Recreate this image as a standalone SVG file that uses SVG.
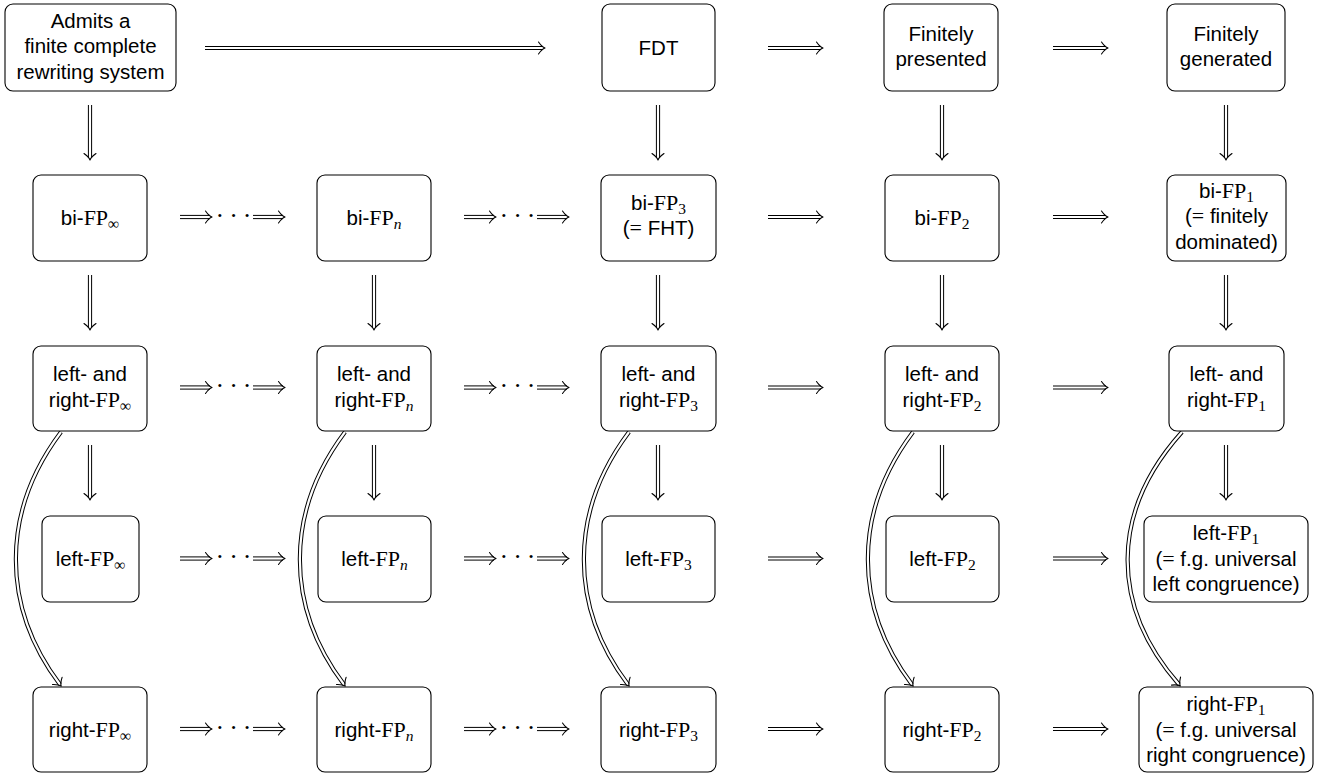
<svg xmlns="http://www.w3.org/2000/svg" width="1328" height="773" viewBox="0 0 1328 773">
<style>
.box{fill:#fff;stroke:#000;stroke-width:1.1}
.t{font-family:"Liberation Sans",Arial,sans-serif;font-size:20.5px;text-anchor:middle;fill:#000}
.m{font-family:"Liberation Serif","Times New Roman",serif;font-size:22px}
.s{font-size:15.5px}
.i{font-style:italic}
.dots{font-family:"Liberation Serif",serif;font-size:26px;letter-spacing:5px;text-anchor:middle;fill:#000}
.o{fill:none;stroke:#000;stroke-width:4.2}
.w{fill:none;stroke:#fff;stroke-width:2.2;marker-end:url(#ah)}
</style>
<defs>
<marker id="ah" markerUnits="userSpaceOnUse" markerWidth="20" markerHeight="20" refX="11" refY="10" orient="auto" overflow="visible">
<path d="M6.5,4 Q10,9 13,10 Q10,11 6.5,16" fill="none" stroke="#000" stroke-width="1.1" stroke-linecap="round" stroke-linejoin="round"/>
</marker>
</defs>

<g id="connectors">
<path class="o" d="M205,48 H543"/><path class="w" d="M205,48 H543"/>
<path class="o" d="M768,48 H821"/><path class="w" d="M768,48 H821"/>
<path class="o" d="M1053,48 H1106"/><path class="w" d="M1053,48 H1106"/>
<g id="h-row2">
<path class="o" d="M180,217 H210"/><path class="w" d="M180,217 H210"/>
<text class="dots" x="236" y="223.8">···</text>
<path class="o" d="M253,217 H283"/><path class="w" d="M253,217 H283"/>
<path class="o" d="M464,217 H494"/><path class="w" d="M464,217 H494"/>
<text class="dots" x="520" y="223.8">···</text>
<path class="o" d="M537,217 H567"/><path class="w" d="M537,217 H567"/>
<path class="o" d="M768,217 H821"/><path class="w" d="M768,217 H821"/>
<path class="o" d="M1053,217 H1106"/><path class="w" d="M1053,217 H1106"/>
</g>
<g id="h-row3">
<path class="o" d="M180,387.5 H210"/><path class="w" d="M180,387.5 H210"/>
<text class="dots" x="236" y="394.3">···</text>
<path class="o" d="M253,387.5 H283"/><path class="w" d="M253,387.5 H283"/>
<path class="o" d="M464,387.5 H494"/><path class="w" d="M464,387.5 H494"/>
<text class="dots" x="520" y="394.3">···</text>
<path class="o" d="M537,387.5 H567"/><path class="w" d="M537,387.5 H567"/>
<path class="o" d="M768,387.5 H821"/><path class="w" d="M768,387.5 H821"/>
<path class="o" d="M1053,387.5 H1106"/><path class="w" d="M1053,387.5 H1106"/>
</g>
<g id="h-row4">
<path class="o" d="M180,558.5 H210"/><path class="w" d="M180,558.5 H210"/>
<text class="dots" x="236" y="565.3">···</text>
<path class="o" d="M253,558.5 H283"/><path class="w" d="M253,558.5 H283"/>
<path class="o" d="M464,558.5 H494"/><path class="w" d="M464,558.5 H494"/>
<text class="dots" x="520" y="565.3">···</text>
<path class="o" d="M537,558.5 H567"/><path class="w" d="M537,558.5 H567"/>
<path class="o" d="M768,558.5 H821"/><path class="w" d="M768,558.5 H821"/>
<path class="o" d="M1053,558.5 H1106"/><path class="w" d="M1053,558.5 H1106"/>
</g>
<g id="h-row5">
<path class="o" d="M180,729 H210"/><path class="w" d="M180,729 H210"/>
<text class="dots" x="236" y="735.8">···</text>
<path class="o" d="M253,729 H283"/><path class="w" d="M253,729 H283"/>
<path class="o" d="M464,729 H494"/><path class="w" d="M464,729 H494"/>
<text class="dots" x="520" y="735.8">···</text>
<path class="o" d="M537,729 H567"/><path class="w" d="M537,729 H567"/>
<path class="o" d="M768,729 H821"/><path class="w" d="M768,729 H821"/>
<path class="o" d="M1053,729 H1106"/><path class="w" d="M1053,729 H1106"/>
</g>
<g id="v">
<path class="o" d="M90,105 V158"/><path class="w" d="M90,105 V158"/>
<path class="o" d="M658,105 V158"/><path class="w" d="M658,105 V158"/>
<path class="o" d="M942,105 V158"/><path class="w" d="M942,105 V158"/>
<path class="o" d="M1226,105 V158"/><path class="w" d="M1226,105 V158"/>
<path class="o" d="M90,275 V328"/><path class="w" d="M90,275 V328"/>
<path class="o" d="M374,275 V328"/><path class="w" d="M374,275 V328"/>
<path class="o" d="M658,275 V328"/><path class="w" d="M658,275 V328"/>
<path class="o" d="M942,275 V328"/><path class="w" d="M942,275 V328"/>
<path class="o" d="M1226,275 V328"/><path class="w" d="M1226,275 V328"/>
<path class="o" d="M90,445 V498"/><path class="w" d="M90,445 V498"/>
<path class="o" d="M374,445 V498"/><path class="w" d="M374,445 V498"/>
<path class="o" d="M658,445 V498"/><path class="w" d="M658,445 V498"/>
<path class="o" d="M942,445 V498"/><path class="w" d="M942,445 V498"/>
<path class="o" d="M1226,445 V498"/><path class="w" d="M1226,445 V498"/>
</g>
<g id="curves">
<path class="o" d="M61,432 C1,512 1,606 60,684.5"/><path class="w" d="M61,432 C1,512 1,606 60,684.5"/>
<path class="o" d="M345,432 C285,512 285,606 344,684.5"/><path class="w" d="M345,432 C285,512 285,606 344,684.5"/>
<path class="o" d="M629,432 C569,512 569,606 628,684.5"/><path class="w" d="M629,432 C569,512 569,606 628,684.5"/>
<path class="o" d="M913,432 C853,512 853,606 912,684.5"/><path class="w" d="M913,432 C853,512 853,606 912,684.5"/>
<path class="o" d="M1182,432 C1110,512 1110,606 1179,684.5"/><path class="w" d="M1182,432 C1110,512 1110,606 1179,684.5"/>
</g>
</g>

<g id="n-rewriting">
<rect class="box" x="5" y="4" width="171" height="87" rx="8"/>
<text class="t" x="90.5" y="27.5">Admits a</text>
<text class="t" x="90.5" y="53.3">finite complete</text>
<text class="t" x="90.5" y="79">rewriting system</text>
</g>
<g id="n-fdt">
<rect class="box" x="602" y="4" width="113" height="87" rx="8"/>
<text class="t" x="658.5" y="55">FDT</text>
</g>
<g id="n-fp">
<rect class="box" x="884" y="4" width="114" height="87" rx="8"/>
<text class="t" x="941" y="40.5">Finitely</text>
<text class="t" x="941" y="66">presented</text>
</g>
<g id="n-fg">
<rect class="box" x="1167" y="4" width="118" height="87" rx="8"/>
<text class="t" x="1226" y="40.5">Finitely</text>
<text class="t" x="1226" y="66">generated</text>
</g>

<g id="n-bi-inf">
<rect class="box" x="33" y="175" width="114" height="86" rx="8"/>
<text class="t" x="90" y="225">bi-<tspan class="m">FP</tspan><tspan class="m s" dy="4">∞</tspan></text>
</g>
<g id="n-bi-n">
<rect class="box" x="317" y="175" width="114" height="86" rx="8"/>
<text class="t" x="374" y="225">bi-<tspan class="m">FP</tspan><tspan class="m s i" dy="4">n</tspan></text>
</g>
<g id="n-bi-3">
<rect class="box" x="601" y="175" width="115" height="86" rx="8"/>
<text class="t" x="658.5" y="209.5">bi-<tspan class="m">FP</tspan><tspan class="m s" dy="4">3</tspan></text>
<text class="t" x="658.5" y="235">(<tspan class="m">=</tspan> FHT)</text>
</g>
<g id="n-bi-2">
<rect class="box" x="885" y="175" width="114" height="86" rx="8"/>
<text class="t" x="942" y="225">bi-<tspan class="m">FP</tspan><tspan class="m s" dy="4">2</tspan></text>
</g>
<g id="n-bi-1">
<rect class="box" x="1167" y="175" width="119" height="86" rx="8"/>
<text class="t" x="1226.5" y="197.5">bi-<tspan class="m">FP</tspan><tspan class="m s" dy="4">1</tspan></text>
<text class="t" x="1226.5" y="223.2">(<tspan class="m">=</tspan> finitely</text>
<text class="t" x="1226.5" y="248.9">dominated)</text>
</g>

<g id="n-lr-inf">
<rect class="box" x="33" y="346" width="114" height="85" rx="8"/>
<text class="t" x="90" y="381">left- and</text>
<text class="t" x="90" y="406.5">right-<tspan class="m">FP</tspan><tspan class="m s" dy="4">∞</tspan></text>
</g>
<g id="n-lr-n">
<rect class="box" x="317" y="346" width="114" height="85" rx="8"/>
<text class="t" x="374" y="381">left- and</text>
<text class="t" x="374" y="406.5">right-<tspan class="m">FP</tspan><tspan class="m s i" dy="4">n</tspan></text>
</g>
<g id="n-lr-3">
<rect class="box" x="601" y="346" width="115" height="85" rx="8"/>
<text class="t" x="658.5" y="381">left- and</text>
<text class="t" x="658.5" y="406.5">right-<tspan class="m">FP</tspan><tspan class="m s" dy="4">3</tspan></text>
</g>
<g id="n-lr-2">
<rect class="box" x="885" y="346" width="114" height="85" rx="8"/>
<text class="t" x="942" y="381">left- and</text>
<text class="t" x="942" y="406.5">right-<tspan class="m">FP</tspan><tspan class="m s" dy="4">2</tspan></text>
</g>
<g id="n-lr-1">
<rect class="box" x="1169" y="346" width="115" height="85" rx="8"/>
<text class="t" x="1226.5" y="381">left- and</text>
<text class="t" x="1226.5" y="406.5">right-<tspan class="m">FP</tspan><tspan class="m s" dy="4">1</tspan></text>
</g>

<g id="n-left-inf">
<rect class="box" x="42" y="516" width="97" height="86" rx="8"/>
<text class="t" x="90.5" y="566">left-<tspan class="m">FP</tspan><tspan class="m s" dy="4">∞</tspan></text>
</g>
<g id="n-left-n">
<rect class="box" x="318" y="516" width="113" height="86" rx="8"/>
<text class="t" x="374.5" y="566">left-<tspan class="m">FP</tspan><tspan class="m s i" dy="4">n</tspan></text>
</g>
<g id="n-left-3">
<rect class="box" x="602" y="516" width="113" height="86" rx="8"/>
<text class="t" x="658.5" y="566">left-<tspan class="m">FP</tspan><tspan class="m s" dy="4">3</tspan></text>
</g>
<g id="n-left-2">
<rect class="box" x="886" y="516" width="113" height="86" rx="8"/>
<text class="t" x="942.5" y="566">left-<tspan class="m">FP</tspan><tspan class="m s" dy="4">2</tspan></text>
</g>
<g id="n-left-1">
<rect class="box" x="1144" y="516" width="164" height="86" rx="8"/>
<text class="t" x="1226" y="540">left-<tspan class="m">FP</tspan><tspan class="m s" dy="4">1</tspan></text>
<text class="t" x="1226" y="565.7">(<tspan class="m">=</tspan> f.g. universal</text>
<text class="t" x="1226" y="591.4">left congruence)</text>
</g>

<g id="n-right-inf">
<rect class="box" x="33" y="687" width="114" height="85" rx="8"/>
<text class="t" x="90" y="736.5">right-<tspan class="m">FP</tspan><tspan class="m s" dy="4">∞</tspan></text>
</g>
<g id="n-right-n">
<rect class="box" x="317" y="687" width="114" height="85" rx="8"/>
<text class="t" x="374" y="736.5">right-<tspan class="m">FP</tspan><tspan class="m s i" dy="4">n</tspan></text>
</g>
<g id="n-right-3">
<rect class="box" x="601" y="687" width="115" height="85" rx="8"/>
<text class="t" x="658.5" y="736.5">right-<tspan class="m">FP</tspan><tspan class="m s" dy="4">3</tspan></text>
</g>
<g id="n-right-2">
<rect class="box" x="885" y="687" width="114" height="85" rx="8"/>
<text class="t" x="942" y="736.5">right-<tspan class="m">FP</tspan><tspan class="m s" dy="4">2</tspan></text>
</g>
<g id="n-right-1">
<rect class="box" x="1139" y="687" width="174" height="85" rx="8"/>
<text class="t" x="1226" y="711">right-<tspan class="m">FP</tspan><tspan class="m s" dy="4">1</tspan></text>
<text class="t" x="1226" y="736.7">(<tspan class="m">=</tspan> f.g. universal</text>
<text class="t" x="1226" y="762.4">right congruence)</text>
</g>
</svg>
